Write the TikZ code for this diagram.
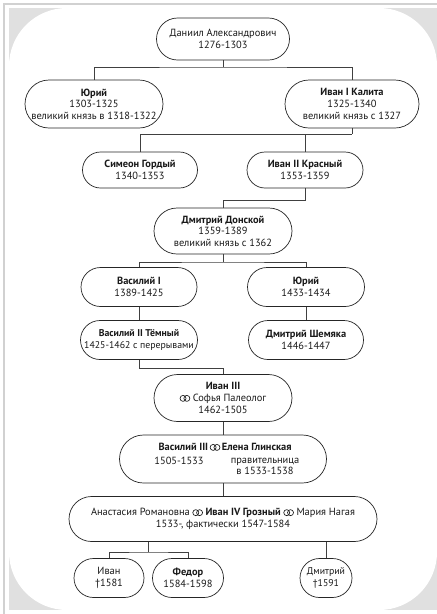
\documentclass[tikz,border=0pt]{standalone}
\usepackage{fontspec}
\usepackage{pict2e}
\setmainfont{PT Sans}
\usetikzlibrary{shapes.misc,calc}
\newcommand{\marr}{{\setlength\unitlength{1pt}\begin{picture}(10.2,5.5)(0,0)\linethickness{0.65pt}\put(3.2,3.2){\circle{6}}\put(7,3.2){\circle{6}}\end{picture}}}
\begin{document}
\begin{tikzpicture}[x=1pt,y=-1pt,
  pill/.style={draw=black!85, line width=0.7pt, rounded rectangle, fill=white, inner sep=0pt},
  txt/.style={align=center, inner sep=0pt, text=black!90, font=\fontsize{10.4}{11.6}\selectfont},
  small/.style={font=\fontsize{9.8}{11.6}\selectfont},
  link/.style={draw=black!75, line width=0.8pt}]
\useasboundingbox (0,0) rectangle (437,614);
\fill[white] (0,0) rectangle (437,614);
\fill[black!12] (9,8) rectangle (437,610);
\fill[white, rounded corners=58pt] (9,8) rectangle (437,610);
\draw[black!18, line width=1.2pt] (4,614) -- (4,4) -- (437,4);

% nodes
\node[pill, minimum width=133pt, minimum height=42pt] (daniil) at (223,39) {};
\node[txt] (daniil-t) at (daniil) {Даниил Александрович\\1276-1303};

\node[pill, minimum width=138pt, minimum height=48pt] (yuri) at (94,104) {};
\node[txt] (yuri-t) at (yuri) {\textbf{Юрий}\\1303-1325\\великий князь в 1318-1322};

\node[pill, minimum width=134pt, minimum height=48pt] (kalita) at (352,104) {};
\node[txt] (kalita-t) at (kalita) {\textbf{Иван I Калита}\\1325-1340\\великий князь с 1327};

\node[pill, minimum width=115pt, minimum height=36pt] (simeon) at (140,170) {};
\node[txt] (simeon-t) at (simeon) {\textbf{Симеон Гордый}\\1340-1353};

\node[pill, minimum width=116pt, minimum height=36pt] (ivan2) at (305,170) {};
\node[txt] (ivan2-t) at (ivan2) {\textbf{Иван II Красный}\\1353-1359};

\node[pill, minimum width=138pt, minimum height=46pt] (donskoy) at (223,231) {};
\node[txt] (donskoy-t) at (donskoy) {\textbf{Дмитрий Донской}\\1359-1389\\великий князь с 1362};

\node[pill, minimum width=116pt, minimum height=39pt] (vas1) at (139,287) {};
\node[txt] (vas1-t) at (vas1) {\textbf{Василий I}\\1389-1425};

\node[pill, minimum width=117pt, minimum height=39pt] (yuri2) at (306,287) {};
\node[txt] (yuri2-t) at (yuri2) {\textbf{Юрий}\\1433-1434};

\node[pill, minimum width=117pt, minimum height=39pt] (vas2) at (139,340) {};
\node[txt, small] (vas2-t) at (vas2) {\textbf{Василий II Тёмный}\\1425-1462 с перерывами};

\node[pill, minimum width=115pt, minimum height=39pt] (shem) at (306,340) {};
\node[txt] (shem-t) at (shem) {\textbf{Дмитрий Шемяка}\\1446-1447};

\node[pill, minimum width=138pt, minimum height=47pt] (ivan3) at (223,398) {};
\node[txt] (ivan3-t) at (ivan3) {\textbf{Иван III}\\\marr\ Софья Палеолог\\1462-1505};

\node[pill, minimum width=207pt, minimum height=48pt] (vas3) at (223,459) {};
\node[txt] (vas3-a) at (225,447) {\textbf{Василий III}\,\marr\,\textbf{Елена Глинская}};
\node[txt] (vas3-b) at (179,461) {1505-1533};
\node[txt] (vas3-c) at (265,466.5) {правительница\\в 1533-1538};

\node[pill, minimum width=308pt, minimum height=45pt] (anast) at (223,519) {};
\node[txt] (anast-t) at (anast) {Анастасия Романовна \marr\ \textbf{Иван IV Грозный} \marr\ Мария Нагая\\1533-, фактически 1547-1584};

\node[pill, minimum width=70pt, minimum height=39pt] (ivan) at (109,578) {};
\node[txt] (ivan-t) at (ivan) {Иван\\†1581};

\node[pill, minimum width=71pt, minimum height=39pt] (fedor) at (188,578) {};
\node[txt] (fedor-t) at (fedor) {\textbf{Федор}\\1584-1598};

\node[pill, minimum width=52pt, minimum height=39pt] (dmitri) at (326,578) {};
\node[txt, small] (dmitri-t) at (dmitri) {Дмитрий\\†1591};

% connectors
\coordinate (c1) at (223,67);
\draw[link] (daniil.south) -- (c1);
\draw[link] (yuri.north) |- (c1) -| (kalita.north);

\coordinate (c2) at (352,134);
\draw[link] (kalita.south) -- (c2);
\draw[link] (simeon.north) |- (c2);
\draw[link] (ivan2.north) -- (ivan2.north |- c2);

\coordinate (c3) at (223,200);
\draw[link] (ivan2.south) |- (c3) -- (donskoy.north);

\coordinate (c4) at (223,262);
\draw[link] (donskoy.south) -- (c4);
\draw[link] (vas1.north) |- (c4) -| (yuri2.north);
\draw[link] (vas1.south) -- (vas2.north);
\draw[link] (yuri2.south) -- (shem.north);

\coordinate (c5) at (223,368);
\draw[link] (vas2.south) |- (c5) -- (ivan3.north);
\draw[link] (ivan3.south) -- (vas3.north);
\draw[link] (vas3.south) -- (anast.north);

\coordinate (c6) at (148.5,552);
\draw[link] (c6) -- (c6 |- anast.south);
\draw[link] (ivan.north) |- (c6) -| (fedor.north);
\draw[link] (dmitri.north) -- (dmitri.north |- anast.south);
\end{tikzpicture}
\end{document}
